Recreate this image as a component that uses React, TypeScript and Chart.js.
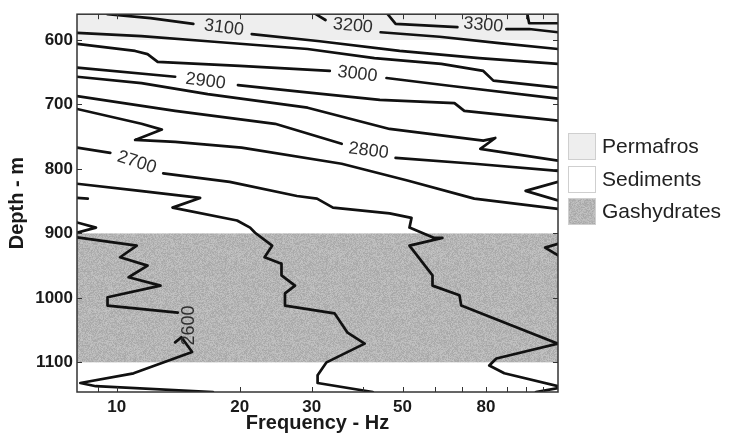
import React, { useEffect, useRef } from 'react';
import { Chart, registerables } from 'chart.js';

Chart.register(...registerables);

type Pt = [number, number]; // [frequency (Hz), depth (m)]

// ---- axes ----
const FREQ_MIN = 8;
const FREQ_MAX = 120;
const DEPTH_MIN = 560;
const DEPTH_MAX = 1146;
const FREQ_TICKS = [10, 20, 30, 50, 80];
const FREQ_MINOR_TICKS = [9, 40, 60, 70, 90, 100, 110];
const DEPTH_TICKS = [600, 700, 800, 900, 1000, 1100];

// ---- layers ----
const LAYER_NAMES = ['Permafros', 'Sediments', 'Gashydrates'];
const PERMAFROST_RANGE = [560, 600];
const HYDRATE_RANGE = [900, 1100];

// ---- contour segments (velocity iso-lines) ----
const V3100_A: Pt[] = [[9.5, 560], [12.1, 566], [15.4, 575]];
const V3100_B: Pt[] = [[21.4, 591], [31.4, 602], [49.2, 617], [77, 628], [120, 637]];
const V3200_A: Pt[] = [[30.7, 560], [32.4, 569]];
const V3200_B: Pt[] = [[44.2, 588], [61.6, 595], [86.2, 605], [120, 614]];
const V3300_A: Pt[] = [[46, 560], [48.1, 575], [68.1, 580]];
const V3300_B: Pt[] = [[89.7, 583], [102, 583], [120, 588]];
const V3350: Pt[] = [[101, 560], [102, 574], [120, 574]];
const V3050: Pt[] = [[8, 589], [11.5, 594], [16.7, 602], [29.3, 614], [42.7, 628], [62.2, 637], [78.8, 648], [83.4, 663], [120, 674]];
const V3000_A: Pt[] = [[8, 606], [11.1, 617], [11.9, 622], [12.6, 634], [20, 640], [33.2, 648]];
const V3000_B: Pt[] = [[45.7, 659], [65.1, 671], [120, 691]];
const V2900_A: Pt[] = [[8, 643], [13.9, 657]];
const V2900_B: Pt[] = [[19.8, 670], [28, 680], [44, 693], [67, 698], [70.8, 710], [120, 725]];
const V2850: Pt[] = [[8, 657], [11.5, 667], [16.7, 684], [29.3, 705], [46.5, 738], [78.8, 756], [84.3, 752], [77.5, 769], [120, 787]];
const V2800_A: Pt[] = [[8, 687], [13.9, 710], [24.4, 730], [35.5, 761]];
const V2800_B: Pt[] = [[48.1, 783], [74.9, 792], [120, 803]];
const V2750: Pt[] = [[8, 707], [11.5, 730], [12.9, 739], [11.1, 755], [13.9, 758], [20.2, 767], [35.5, 792], [51.4, 818], [74.9, 846], [120, 862]];
const V2750_EDGE: Pt[] = [[120, 820], [100, 834], [120, 849]];
const V2700_A: Pt[] = [[8, 767], [9.65, 775]];
const V2700_B: Pt[] = [[13, 807], [18.9, 820], [27.6, 842], [30.9, 846], [33.8, 860], [46.5, 869], [52.6, 876], [52, 891], [59.8, 907], [62.6, 907], [52, 919], [59.2, 965], [59.2, 981], [68.9, 996], [69.6, 1012], [120, 1071], [84.8, 1094], [81.5, 1105], [88.7, 1117], [120, 1137]];
const V2650: Pt[] = [[8, 823], [11.4, 834], [16, 845], [13.7, 860], [19.7, 880], [21.2, 891], [21.8, 899], [24, 919], [23, 937], [25.3, 947], [25.3, 965], [27.3, 981], [25.8, 993], [25.8, 1012], [34.1, 1024], [36.7, 1054], [40.4, 1071], [32.6, 1100], [31, 1120], [31, 1132], [42.3, 1146]];
const V2650_SPUR: Pt[] = [[8, 845], [8.5, 846]];
const V2620_EDGE: Pt[] = [[8, 883], [8.9, 891], [8, 899]];
const V2600_A: Pt[] = [[8, 906], [11.2, 919], [10.2, 937], [11.9, 950], [10.7, 968], [12.8, 981], [9.5, 999], [9.5, 1012], [14.1, 1023]];
const V2600_B: Pt[] = [[13.9, 1069], [14.4, 1061], [15.3, 1084], [11, 1117], [8.15, 1132], [8.9, 1137], [17.2, 1146]];
const V2700_EDGE: Pt[] = [[120, 916], [111.6, 922], [120, 934]];
const V2650_CORNER: Pt[] = [[106, 1146], [120, 1140]];

const CONTOUR_SEGMENTS: Pt[][] = [
  V3100_A, V3100_B, V3200_A, V3200_B, V3300_A, V3300_B, V3350, V3050,
  V3000_A, V3000_B, V2900_A, V2900_B, V2850, V2800_A, V2800_B, V2750,
  V2750_EDGE, V2700_A, V2700_B, V2650, V2650_SPUR, V2620_EDGE, V2600_A,
  V2600_B, V2700_EDGE, V2650_CORNER,
];

// ---- contour labels ----
const LABEL_TEXT = ['3100', '3200', '3300', '3000', '2900', '2800', '2700', '2600'];
const LABEL_FREQ = [18.3, 37.8, 78.8, 38.8, 16.5, 41.3, 11.2, 15.0];
const LABEL_DEPTH = [581, 578, 577, 653, 664, 772, 790, 1043];
const LABEL_ANGLE = [7, 5, 5, 7, 7, 7, 18, -90];

const FONT = '"Liberation Sans", Arial, Helvetica, sans-serif';

function makeHydratePattern(ctx: CanvasRenderingContext2D) {
  const w = 101;
  const h = 97;
  const c = document.createElement('canvas');
  c.width = w;
  c.height = h;
  const g = c.getContext('2d') as CanvasRenderingContext2D;
  const img = g.createImageData(w, h);
  for (let j = 0; j < h; j++) {
    for (let i = 0; i < w; i++) {
      let s = (i * 73856093) ^ (j * 19349663);
      s = Math.imul(s ^ (s >>> 15), 0x2c1b3c6d);
      s = Math.imul(s ^ (s >>> 12), 0x297a2d39);
      s ^= s >>> 15;
      const r = ((s >>> 0) % 1000) / 1000;
      const v = Math.round(166 + r * 30);
      const k = (j * w + i) * 4;
      img.data[k] = v;
      img.data[k + 1] = v;
      img.data[k + 2] = v;
      img.data[k + 3] = 255;
    }
  }
  g.putImageData(img, 0, 0);
  return ctx.createPattern(c, 'repeat') as CanvasPattern;
}

export default function App() {
  const ref = useRef<HTMLCanvasElement | null>(null);

  useEffect(() => {
    const canvas = ref.current;
    if (!canvas) return;
    const ctx0 = canvas.getContext('2d') as CanvasRenderingContext2D;
    const pattern = makeHydratePattern(ctx0);
    const layerFills = ['#eeeeee', '#ffffff', pattern];

    const layerPlugin = {
      id: 'layers',
      beforeDatasetsDraw(chart: any) {
        const { ctx, chartArea: a, scales } = chart;
        const y = scales.y;
        ctx.save();
        ctx.beginPath();
        ctx.rect(a.left, a.top, a.right - a.left, a.bottom - a.top);
        ctx.clip();
        const p0 = y.getPixelForValue(PERMAFROST_RANGE[0]);
        const p1 = y.getPixelForValue(PERMAFROST_RANGE[1]);
        ctx.fillStyle = layerFills[0];
        ctx.fillRect(a.left, Math.min(p0, p1), a.right - a.left, Math.abs(p1 - p0));
        const h0 = y.getPixelForValue(HYDRATE_RANGE[0]);
        const h1 = y.getPixelForValue(HYDRATE_RANGE[1]);
        ctx.fillStyle = layerFills[2];
        ctx.fillRect(a.left, Math.min(h0, h1), a.right - a.left, Math.abs(h1 - h0));
        ctx.restore();
      },
    };

    const framePlugin = {
      id: 'frame',
      afterDatasetsDraw(chart: any) {
        const { ctx, chartArea: a, scales } = chart;
        const xs = scales.x;
        const ys = scales.y;
        ctx.save();
        // contour labels
        ctx.font = `18px ${FONT}`;
        ctx.fillStyle = '#2e2e2e';
        ctx.textAlign = 'center';
        ctx.textBaseline = 'middle';
        for (let i = 0; i < LABEL_TEXT.length; i++) {
          const px = xs.getPixelForValue(LABEL_FREQ[i]);
          const py = ys.getPixelForValue(LABEL_DEPTH[i]);
          ctx.save();
          ctx.translate(px, py);
          ctx.rotate((LABEL_ANGLE[i] * Math.PI) / 180);
          ctx.fillText(LABEL_TEXT[i], 0, 0);
          ctx.restore();
        }
        // frame
        ctx.strokeStyle = '#333333';
        ctx.lineWidth = 1.5;
        ctx.strokeRect(a.left, a.top, a.right - a.left, a.bottom - a.top);
        // inward ticks
        ctx.lineWidth = 1;
        ctx.beginPath();
        for (const v of DEPTH_TICKS) {
          const py = Math.round(ys.getPixelForValue(v)) + 0.5;
          ctx.moveTo(a.left, py);
          ctx.lineTo(a.left + 5, py);
          ctx.moveTo(a.right - 5, py);
          ctx.lineTo(a.right, py);
        }
        for (const v of [...FREQ_TICKS, ...FREQ_MINOR_TICKS]) {
          const px = Math.round(xs.getPixelForValue(v)) + 0.5;
          ctx.moveTo(px, a.bottom);
          ctx.lineTo(px, a.bottom - 5);
          ctx.moveTo(px, a.top);
          ctx.lineTo(px, a.top + 5);
        }
        ctx.stroke();
        ctx.restore();
      },
      afterDraw(chart: any) {
        const { ctx, chartArea: a } = chart;
        ctx.save();
        // axis titles
        ctx.fillStyle = '#1a1a1a';
        ctx.font = `bold 20px ${FONT}`;
        ctx.textAlign = 'center';
        ctx.textBaseline = 'middle';
        ctx.fillText('Frequency - Hz', (a.left + a.right) / 2, 423);
        ctx.save();
        ctx.translate(17, (a.top + a.bottom) / 2);
        ctx.rotate(-Math.PI / 2);
        ctx.fillText('Depth - m', 0, 0);
        ctx.restore();
        // legend
        const boxX = 568;
        const boxW = 28;
        const boxH = 27;
        const boxTops = [133, 166, 198];
        ctx.font = `21px ${FONT}`;
        ctx.textAlign = 'left';
        for (let i = 0; i < LAYER_NAMES.length; i++) {
          ctx.fillStyle = layerFills[i];
          ctx.fillRect(boxX, boxTops[i], boxW, boxH);
          ctx.strokeStyle = '#cfcfcf';
          ctx.lineWidth = 1;
          ctx.strokeRect(boxX + 0.5, boxTops[i] + 0.5, boxW - 1, boxH - 1);
          ctx.fillStyle = '#222222';
          ctx.fillText(LAYER_NAMES[i], 602, boxTops[i] + boxH / 2 + 1);
        }
        ctx.restore();
      },
    };

    const tickFont = { family: FONT, size: 17, weight: 'bold' as const };

    const chart = new Chart(canvas, {
      type: 'scatter',
      data: {
        datasets: CONTOUR_SEGMENTS.map((seg) => ({
          data: seg.map(([x, y]) => ({ x, y })),
          showLine: true,
          borderColor: '#111111',
          borderWidth: 2.7,
          borderJoinStyle: 'round' as const,
          borderCapStyle: 'round' as const,
          pointRadius: 0,
          pointHoverRadius: 0,
          tension: 0,
          fill: false,
        })),
      },
      options: {
        animation: false,
        responsive: false,
        events: [],
        layout: { padding: { top: 13, right: 171, left: 0, bottom: 0 } },
        plugins: { legend: { display: false }, tooltip: { enabled: false } },
        scales: {
          x: {
            type: 'logarithmic',
            position: 'bottom',
            min: FREQ_MIN,
            max: FREQ_MAX,
            grid: { display: false, drawTicks: false },
            border: { display: false },
            ticks: {
              font: tickFont,
              color: '#1a1a1a',
              padding: 5,
              autoSkip: false,
              maxRotation: 0,
              callback: (v: any) => String(v),
            },
            afterBuildTicks: (s: any) => {
              s.ticks = FREQ_TICKS.map((v) => ({ value: v }));
            },
            afterFit: (s: any) => {
              s.height = 46;
            },
          },
          y: {
            type: 'linear',
            reverse: true,
            min: DEPTH_MIN,
            max: DEPTH_MAX,
            grid: { display: false, drawTicks: false },
            border: { display: false },
            ticks: {
              font: tickFont,
              color: '#1a1a1a',
              padding: 4,
              autoSkip: false,
              callback: (v: any) => String(v),
            },
            afterBuildTicks: (s: any) => {
              s.ticks = DEPTH_TICKS.map((v) => ({ value: v }));
            },
            afterFit: (s: any) => {
              s.width = 77;
            },
          },
        },
      },
      plugins: [layerPlugin, framePlugin],
    });

    return () => {
      chart.destroy();
    };
  }, []);

  return (
    <div style={{ position: 'absolute', left: 0, top: 0, width: 729, height: 438, background: '#ffffff' }}>
      <canvas ref={ref} width={729} height={438} style={{ display: 'block', width: 729, height: 438 }} />
    </div>
  );
}
